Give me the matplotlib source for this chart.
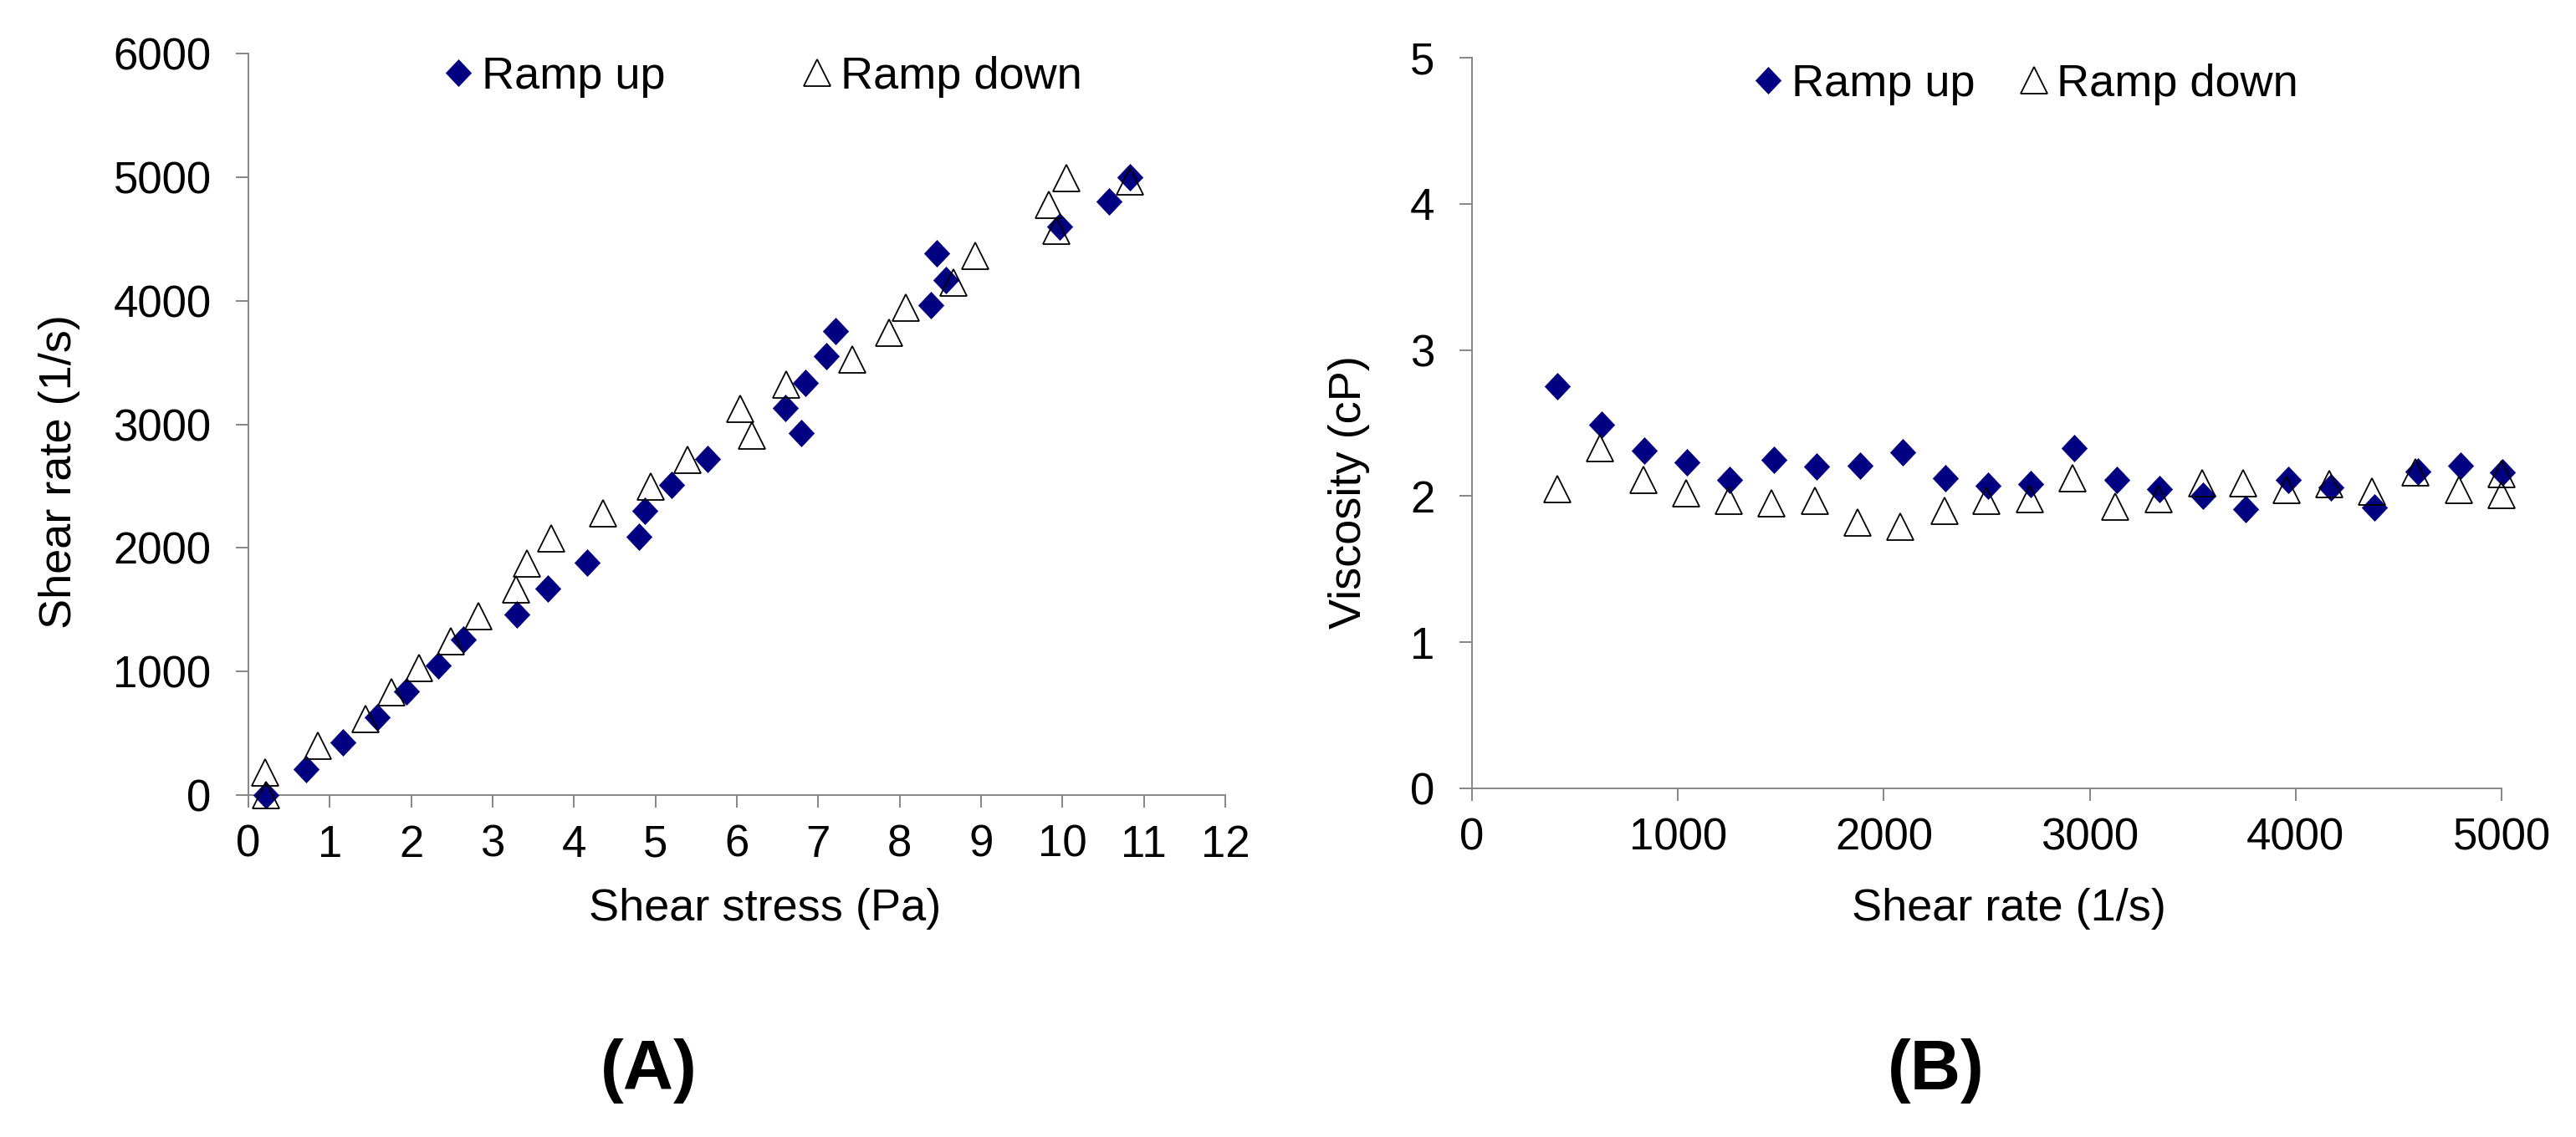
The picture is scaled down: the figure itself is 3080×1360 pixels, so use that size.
import matplotlib
matplotlib.use('Agg')
import matplotlib.pyplot as plt

plt.rcParams['font.family'] = ['Liberation Sans', 'DejaVu Sans']

# Panel A: shear stress (Pa) vs shear rate (1/s)
STRESS_UP = [0.22, 0.71, 1.16, 1.58, 1.94, 2.33, 2.64, 3.30, 3.68, 4.16, 4.80, 4.87, 5.20,
             5.64, 6.79, 6.60, 6.84, 7.10, 7.21, 8.38, 8.57, 8.46, 9.97, 10.57, 10.83]
RATE_UP = [0, 210, 424, 631, 840, 1048, 1257, 1460, 1669, 1883, 2090, 2300, 2507,
           2721, 2931, 3133, 3336, 3550, 3757, 3966, 4169, 4383, 4597, 4806, 5002]
STRESS_DOWN = [0.22, 0.21, 0.85, 1.44, 1.76, 2.10, 2.49, 2.83, 3.29, 3.42, 3.72, 4.36, 4.94,
               5.39, 6.19, 6.04, 6.61, 7.42, 7.87, 8.08, 8.66, 8.93, 9.92, 9.83, 10.05, 10.83]
RATE_DOWN = [0, 186, 400, 614, 829, 1031, 1245, 1448, 1662, 1876, 2079, 2281, 2495,
             2710, 2912, 3126, 3324, 3527, 3741, 3944, 4146, 4360, 4563, 4777, 4991, 4968]

# Panel B: shear rate (1/s) vs viscosity (cP)
VRATE_UP = [413, 630, 837, 1044, 1252, 1465, 1672, 1883, 2090, 2297, 2506, 2714, 2924,
            3132, 3340, 3550, 3758, 3966, 4172, 4384, 4592, 4802, 5004]
VISC_UP = [2.75, 2.49, 2.31, 2.23, 2.11, 2.25, 2.20, 2.21, 2.30, 2.12, 2.07, 2.08, 2.33,
           2.11, 2.05, 2.00, 1.91, 2.11, 2.06, 1.92, 2.17, 2.21, 2.16]
VRATE_DOWN = [413, 620, 831, 1040, 1247, 1455, 1666, 1873, 2080, 2293, 2496, 2708, 2916,
              3122, 3334, 3547, 3744, 3956, 4162, 4370, 4582, 4792, 5000, 5000]
VISC_DOWN = [2.05, 2.33, 2.11, 2.02, 1.97, 1.95, 1.97, 1.82, 1.79, 1.90, 1.97, 1.98, 2.12,
             1.93, 1.98, 2.09, 2.09, 2.04, 2.08, 2.03, 2.16, 2.04, 2.01, 2.15]

SERIES_NAMES = ["Ramp up", "Ramp down"]
NAVY = '#000080'
GREY = '#868686'
DIAMOND = [(0, 1), (0.95, 0), (0, -1), (-0.95, 0), (0, 1)]

FS_TICK = 38
FS_LABEL = 39

W, H = 3080, 1360
fig = plt.figure(figsize=(W / 100, H / 100), dpi=100)
fig.patch.set_facecolor('white')


def px(x, y):
    return x / W, 1 - y / H


def style_axes(ax):
    for side in ['top', 'right']:
        ax.spines[side].set_visible(False)
    for side in ['left', 'bottom']:
        ax.spines[side].set_color(GREY)
        ax.spines[side].set_linewidth(1.4)
    ax.tick_params(axis='both', direction='out', length=11, width=1.4, color=GREY,
                   labelsize=FS_TICK, labelcolor='black')
    ax.tick_params(axis='y', pad=21)
    ax.tick_params(axis='x', pad=14)


def draw_series(ax, xu, yu, xd, yd):
    up, = ax.plot(xu, yu, linestyle='none', marker=DIAMOND, markersize=23,
                  markerfacecolor=NAVY, markeredgecolor=NAVY, markeredgewidth=0.5,
                  clip_on=False, zorder=3, label=SERIES_NAMES[0])
    down, = ax.plot(xd, yd, linestyle='none', marker='^', markersize=23,
                    markerfacecolor='none', markeredgecolor='black', markeredgewidth=1.3,
                    clip_on=False, zorder=4, label=SERIES_NAMES[1])
    return up, down


# ---- panel A
axA = fig.add_axes([297 / W, 1 - 951 / H, (1465 - 297) / W, (951 - 64) / H])
style_axes(axA)
hA = draw_series(axA, STRESS_UP, RATE_UP, STRESS_DOWN, RATE_DOWN)
axA.set_xlim(0, 12)
axA.set_ylim(0, 6000)
axA.set_xticks(range(0, 13))
axA.set_yticks(range(0, 6001, 1000))
fig.legend(handles=hA, loc='center left', bbox_to_anchor=px(532, 92), ncol=2,
           frameon=False, fontsize=FS_LABEL, handlelength=0.6, handletextpad=0.21,
           columnspacing=3.06, borderpad=0, borderaxespad=0, numpoints=1)

# ---- panel B
axB = fig.add_axes([1760 / W, 1 - 943 / H, (2991 - 1760) / W, (943 - 69) / H])
style_axes(axB)
hB = draw_series(axB, VRATE_UP, VISC_UP, VRATE_DOWN, VISC_DOWN)
axB.set_xlim(0, 5000)
axB.set_ylim(0, 5)
axB.set_xticks(range(0, 5001, 1000))
axB.set_yticks(range(0, 6))
fig.legend(handles=hB, loc='center left', bbox_to_anchor=px(2098, 101), ncol=2,
           frameon=False, fontsize=FS_LABEL, handlelength=0.6, handletextpad=0.21,
           columnspacing=1.0, borderpad=0, borderaxespad=0, numpoints=1)

# axis titles
fig.text(*px(915, 1101), "Shear stress (Pa)", fontsize=FS_LABEL, ha='center', va='baseline')
fig.text(*px(2402, 1101), "Shear rate (1/s)", fontsize=FS_LABEL, ha='center', va='baseline')
fig.text(*px(85, 564), "Shear rate (1/s)", fontsize=FS_LABEL, rotation=90,
         rotation_mode='anchor', ha='center', va='baseline')
fig.text(*px(1627, 589), "Viscosity (cP)", fontsize=FS_LABEL, rotation=90,
         rotation_mode='anchor', ha='center', va='baseline')

# panel tags
fig.text(*px(776, 1281), "(A)", fontsize=60, fontweight='bold', ha='center', va='center')
fig.text(*px(2315, 1281), "(B)", fontsize=60, fontweight='bold', ha='center', va='center')

fig.savefig('out.png', dpi=100, facecolor='white')
